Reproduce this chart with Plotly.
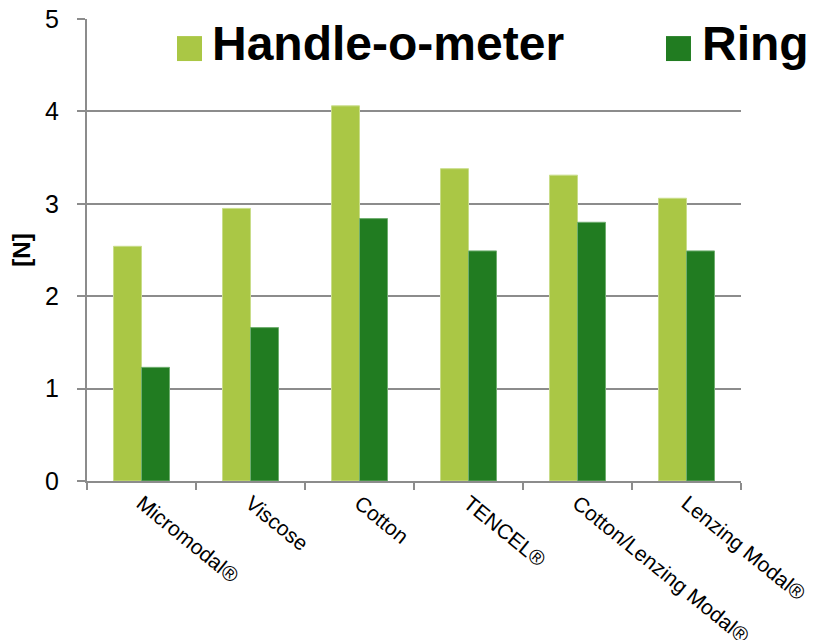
import plotly.graph_objects as go

categories = ["Micromodal®", "Viscose", "Cotton", "TENCEL®", "Cotton/Lenzing Modal®", "Lenzing Modal®"]
handle_o_meter = [2.54, 2.95, 4.06, 3.38, 3.31, 3.06]
ring = [1.23, 1.66, 2.84, 2.49, 2.80, 2.49]
series_names = ["Handle-o-meter", "Ring"]
colors = ["#AAC745", "#217C21"]
edge_colors = ["#C9DD8A", "#6FAE6F"]
y_ticks = [0, 1, 2, 3, 4, 5]

fig = go.Figure()
for name, vals, col, ec in zip(series_names, [handle_o_meter, ring], colors, edge_colors):
    fig.add_trace(go.Bar(x=categories, y=vals, name=name, marker=dict(color=col, line=dict(color=ec, width=1)),
                         showlegend=False))

FONT = "Liberation Sans, Arial, sans-serif"
GRID = "#8C8C8C"

fig.update_layout(
    width=816, height=640,
    margin=dict(l=87, r=75, t=19, b=159, autoexpand=False),
    paper_bgcolor="white", plot_bgcolor="white",
    barmode="group", bargap=0.486, bargroupgap=0,
    font=dict(family=FONT, color="black"),
    xaxis=dict(
        type="category", tickson="boundaries", ticks="outside", ticklen=7, tickcolor=GRID, tickwidth=2,
        showline=True, linecolor=GRID, linewidth=2, showgrid=False,
        tickangle=39, tickfont=dict(size=21, family=FONT, color="black"),
    ),
    yaxis=dict(
        range=[0, 5], tickvals=y_ticks, ticks="outside", ticklen=8, tickcolor=GRID, tickwidth=2,
        showline=True, linecolor=GRID, linewidth=2, showgrid=True, gridcolor=GRID, gridwidth=2,
        zeroline=False, tickfont=dict(size=25, family=FONT, color="black"), ticklabelstandoff=13,
        title=dict(text="<b>[N]</b>", font=dict(size=24, family=FONT, color="black"), standoff=8),
    ),
)

# Legend drawn manually with large swatches
legend_items = [
    dict(x0=0.1376, x1=0.1758, tx=0.1880),
    dict(x0=0.8853, x1=0.9235, tx=0.9380),
]
for item, name, col in zip(legend_items, series_names, colors):
    fig.add_shape(type="rect", xref="paper", yref="paper", x0=item["x0"], x1=item["x1"],
                  y0=0.909, y1=0.963, fillcolor=col, line=dict(width=0), layer="above")
    fig.add_annotation(xref="paper", yref="paper", x=item["tx"], y=0.946, xanchor="left", yanchor="middle",
                       text=f"<b>{name}</b>", showarrow=False,
                       font=dict(size=48, family=FONT, color="black"), bgcolor="rgba(0,0,0,0)")

fig.write_html("out.html")
